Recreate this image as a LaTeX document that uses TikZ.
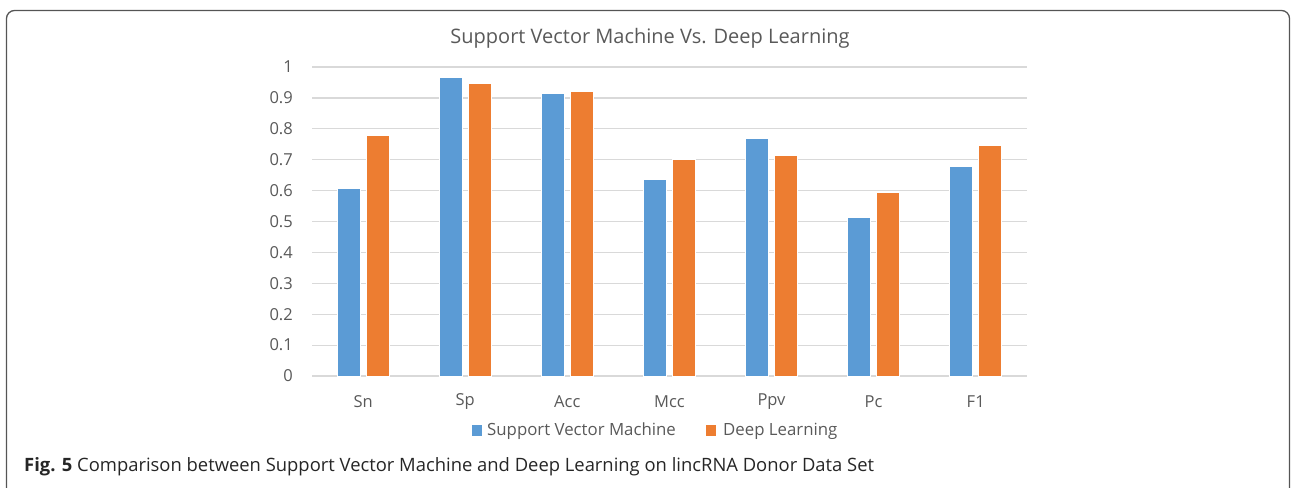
\documentclass[tikz,border=0pt]{standalone}
\usepackage{fontspec}
\setmainfont{Open Sans}
\newfontfamily\capfont{Open Sans}
\begin{document}
\begin{tikzpicture}[x=1pt,y=-1pt,
  txt/.style={text=gray35, inner sep=0pt},
  grid/.style={draw=gridgray, line width=1.2pt},
  svm/.style={fill=svmblue, draw=white, line width=0.6pt},
  dl/.style={fill=dlorange, draw=white, line width=0.6pt}]
\definecolor{gray35}{HTML}{595959}
\definecolor{gridgray}{HTML}{D9D9D9}
\definecolor{svmblue}{HTML}{5B9BD5}
\definecolor{dlorange}{HTML}{ED7D31}
\definecolor{framegray}{HTML}{555555}
\useasboundingbox (0,0) rectangle (1292,487);
% frame
\draw[framegray, line width=1.3pt, rounded corners=8pt] (6.5,500) -- (6.5,10.5) -- (1289.5,10.5) -- (1289.5,500);
% title
\node[txt, font=\fontsize{20}{24}\selectfont] (title) at (650,38) {Support Vector Machine Vs. Deep Learning};
% gridlines and y labels
\foreach \i/\lab in {0/0,1/0.1,2/0.2,3/0.3,4/0.4,5/0.5,6/0.6,7/0.7,8/0.8,9/0.9,10/1} {
  \draw[grid] (312,{376-30.9*\i}) -- (1027,{376-30.9*\i});
  \node[txt, anchor=east, font=\fontsize{16.5}{20}\selectfont] (y\i) at (293,{376-30.9*\i}) {\lab};
}
% bars
\foreach \k/\name/\a/\b in {0/Sn/0.608/0.780,1/Sp/0.968/0.948,2/Acc/0.916/0.922,3/Mcc/0.638/0.700,4/Ppv/0.770/0.713,5/Pc/0.515/0.595,6/F1/0.680/0.745} {
  \pgfmathsetmacro{\c}{363.1+102.1*\k}
  \path[svm] ({\c-26},376) rectangle ({\c-3},{376-309*\a});
  \path[dl] ({\c+3},376) rectangle ({\c+26},{376-309*\b});
  \node[txt, font=\fontsize{16.5}{20}\selectfont] (c\k) at (\c,402) {\name};
}
% legend
\fill[svmblue] (472,425) rectangle (482,436);
\node[txt, anchor=west, font=\fontsize{16.8}{20}\selectfont] (l1) at (487,431) {Support Vector Machine};
\fill[dlorange] (706,425) rectangle (716,436);
\node[txt, anchor=west, font=\fontsize{16.8}{20}\selectfont] (l2) at (723,431) {Deep Learning};
% caption
\node[anchor=west, inner sep=0pt, font=\capfont\fontsize{18.4}{22}\selectfont, text=black!85] (cap) at (24,467) {\textbf{Fig. 5} Comparison between Support Vector Machine and Deep Learning on lincRNA Donor Data Set};
\end{tikzpicture}
\end{document}
